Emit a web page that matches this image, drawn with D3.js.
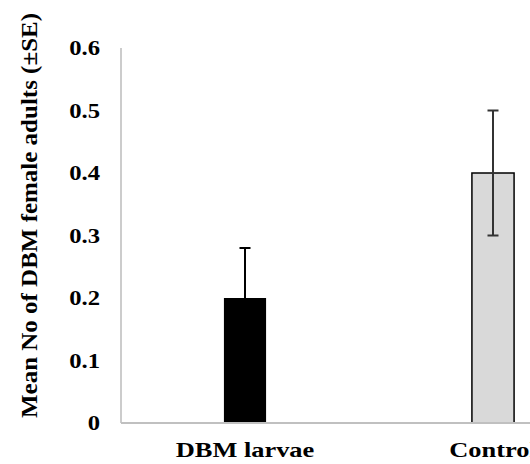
<!DOCTYPE html>
<html><head><meta charset="utf-8">
<script src="https://cdn.jsdelivr.net/npm/d3@7"></script>
<style>body{margin:0;background:#fff}</style>
</head><body>
<svg id="c" width="530" height="464"></svg>
<script>
const categories = ["DBM larvae", "Control"];
const means = [0.2, 0.4];
const seUpper = [0.08, 0.1];
const seLower = [0, 0.1];
const yTicks = [0, 0.1, 0.2, 0.3, 0.4, 0.5, 0.6];
const yTickLabels = ["0", "0.1", "0.2", "0.3", "0.4", "0.5", "0.6"];
const fills = ["#000000", "#d9d9d9"];
const errColors = ["#000000", "#333333"];

const svg = d3.select("#c");
const x0 = 121, x1 = 617, yTop = 48, yBot = 423;
const x = d3.scaleBand().domain(categories).range([x0, x1]).paddingInner(0.83).paddingOuter(0.415);
const y = d3.scaleLinear().domain([0, 0.6]).range([yBot, yTop]);
const font = "'Liberation Serif','Times New Roman',serif";

function widen(sel, f) {
  sel.each(function () {
    const w = this.getComputedTextLength();
    d3.select(this).attr("textLength", w * f).attr("lengthAdjust", "spacingAndGlyphs");
  });
}

// y axis line
svg.append("line").attr("x1", x0).attr("x2", x0).attr("y1", yTop).attr("y2", yBot)
  .attr("stroke", "#999").attr("stroke-width", 1);

// y tick labels
svg.selectAll(".yt").data(yTicks).enter().append("text")
  .attr("x", 100).attr("y", d => y(d)).attr("dy", "0.34em")
  .attr("text-anchor", "end").attr("font-family", font).attr("font-weight", "bold")
  .attr("font-size", 22)
  .text((d, i) => yTickLabels[i])
  .call(widen, 1.12);

// bars
const cx = d => x(d) + x.bandwidth() / 2;
svg.selectAll(".bar").data(categories).enter().append("rect")
  .attr("x", d => x(d)).attr("width", x.bandwidth())
  .attr("y", (d, i) => y(means[i])).attr("height", (d, i) => y(0) - y(means[i]))
  .attr("fill", (d, i) => fills[i])
  .attr("stroke", "#000").attr("stroke-width", (d, i) => i === 1 ? 1.5 : 0);

// x axis line
svg.append("line").attr("x1", x0).attr("x2", x1).attr("y1", yBot).attr("y2", yBot)
  .attr("stroke", "#c0c0c0").attr("stroke-width", 2);

// error bars
categories.forEach((c, i) => {
  const g = svg.append("g").attr("stroke", errColors[i]).attr("stroke-width", 2);
  const top = y(means[i] + seUpper[i]), bot = y(means[i] - seLower[i]);
  g.append("line").attr("x1", cx(c)).attr("x2", cx(c)).attr("y1", top).attr("y2", bot);
  g.append("line").attr("x1", cx(c) - 5.5).attr("x2", cx(c) + 5.5).attr("y1", top).attr("y2", top);
  if (seLower[i] > 0)
    g.append("line").attr("x1", cx(c) - 5.5).attr("x2", cx(c) + 5.5).attr("y1", bot).attr("y2", bot);
});

// x labels
svg.selectAll(".xl").data(categories).enter().append("text")
  .attr("x", d => cx(d)).attr("y", 457)
  .attr("text-anchor", "middle").attr("font-family", font).attr("font-weight", "bold")
  .attr("font-size", 22)
  .text(d => d)
  .call(widen, 1.2);

// y title
svg.append("text")
  .attr("transform", "translate(37,215.5) rotate(-90)")
  .attr("text-anchor", "middle").attr("font-family", font).attr("font-weight", "bold")
  .attr("font-size", 23)
  .attr("textLength", 405).attr("lengthAdjust", "spacingAndGlyphs")
  .text("Mean No of DBM female adults (±SE)");
</script>
</body></html>
